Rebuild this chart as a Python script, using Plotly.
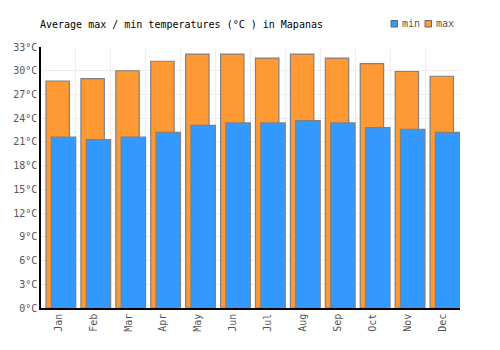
import plotly.graph_objects as go

months = ["Jan", "Feb", "Mar", "Apr", "May", "Jun", "Jul", "Aug", "Sep", "Oct", "Nov", "Dec"]
max_temp = [28.7, 29.0, 30.0, 31.2, 32.1, 32.1, 31.6, 32.1, 31.6, 30.9, 29.9, 29.3]
min_temp = [21.6, 21.3, 21.6, 22.2, 23.1, 23.4, 23.4, 23.7, 23.4, 22.8, 22.6, 22.2]
y_ticks = list(range(0, 34, 3))
y_labels = [f"{v}°C" for v in y_ticks]

FONT = "DejaVu Sans Mono"
MAX_C = "#FF9933"
MIN_C = "#3399FF"

L, R, T, B = 41, 40, 47, 42
W, H = 500, 350
PW, PH = W - L - R, H - T - B


def px(x):
    return (x - L) / PW


def py(y):
    return (H - B - y) / PH


fig = go.Figure()
fig.add_trace(go.Bar(
    x=months, y=max_temp, name="max",
    marker=dict(color=MAX_C, line=dict(color="#808080", width=1.2)),
    width=0.67, offset=-0.357,
))
fig.add_trace(go.Bar(
    x=months, y=min_temp, name="min",
    marker=dict(color=MIN_C, line=dict(color="#808080", width=1.2)),
    width=0.70, offset=-0.205,
))

# legend drawn manually (small square swatches)
shapes = []
annotations = []
for x0, color, label in [(391, MIN_C, "min"), (425, MAX_C, "max")]:
    shapes.append(dict(type="rect", xref="paper", yref="paper",
                       x0=px(x0), x1=px(x0 + 6.5), y0=py(27), y1=py(20.5),
                       fillcolor=color, line=dict(color="#666666", width=1)))
    annotations.append(dict(text=label, xref="paper", yref="paper",
                            x=px(x0 + 9), y=py(24), xanchor="left", yanchor="middle",
                            showarrow=False,
                            font=dict(family=FONT, size=10, color="#555555")))

fig.update_layout(
    width=W, height=H,
    margin=dict(l=L, r=R, t=T, b=B),
    paper_bgcolor="white", plot_bgcolor="white",
    barmode="overlay",
    font=dict(family=FONT, size=10, color="#555555"),
    title=dict(text="Average max / min temperatures (°C ) in Mapanas",
               x=40/500, xanchor="left", y=1-24/350, yanchor="middle",
               font=dict(family=FONT, size=10, color="#000000")),
    showlegend=False,
    shapes=shapes,
    annotations=annotations,
)
fig.update_xaxes(
    type="category", tickson="boundaries", showgrid=True, gridcolor="#eeeeee", gridwidth=1,
    tickangle=-90, showline=True, linecolor="#000000", linewidth=1.5,
    ticks="", tickfont=dict(family=FONT, size=10, color="#555555"),
    range=[-0.5, 11.5],
)
fig.update_yaxes(
    range=[0, 33], tickvals=y_ticks, ticktext=y_labels,
    showgrid=True, gridcolor="#eeeeee", gridwidth=1,
    showline=True, linecolor="#000000", linewidth=1.5, zeroline=False,
    ticks="", tickfont=dict(family=FONT, size=10, color="#555555"),
)

fig.write_html("out.html")
